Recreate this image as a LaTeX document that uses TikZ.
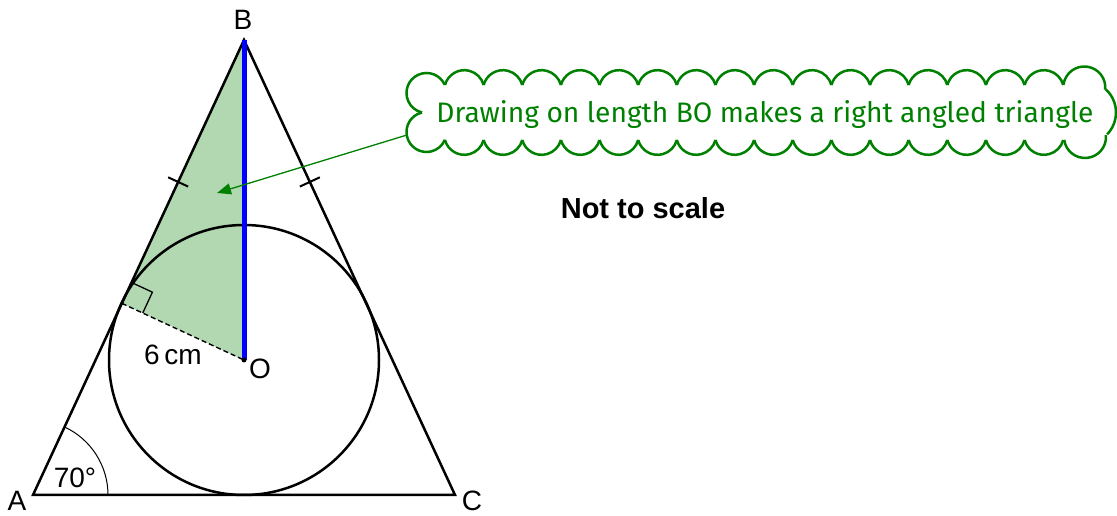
\documentclass[tikz,border=0pt]{standalone}
\usepackage{fontspec}
\setmainfont{Liberation Sans}
\newfontfamily\callfont{Fira Sans}
\usetikzlibrary{arrows.meta,calc,angles}
\definecolor{callgreen}{RGB}{0,128,0}
\definecolor{shadegreen}{RGB}{178,216,178}
\tikzset{
  lbl/.style={font=\fontsize{28}{32}\selectfont, inner sep=0pt},
  edge/.style={line width=2.5pt},
  tick/.style={line width=2pt},
  cloudline/.style={callgreen, line width=2.5pt},
}

\begin{document}
\begin{tikzpicture}[x=1pt,y=1pt]
            \useasboundingbox (0,0) rectangle (1117,516);
            % triangle and incircle
            \coordinate (A) at (33,21);
            \coordinate (B) at (244,476);
            \coordinate (C) at (455,21);
            \coordinate (O) at (244,156);
            \coordinate (T) at ($(A)!(O)!(B)$);
            \fill[shadegreen] (B)--(T)--(O)--cycle;
            \draw[edge] (A)--(B)--(C)--cycle;
            \draw[edge] (O) circle[radius=135pt];
            \draw[line width=1.4pt,dash pattern=on 5pt off 3pt] (T)--(O);
            % right angle
            \coordinate (Ta) at ($(T)!23pt!(B)$);
            \coordinate (Tb) at ($(T)!23pt!(O)$);
            \draw[line width=1.3pt] (Ta)--($(Ta)+(Tb)-(T)$)--(Tb);
            % equal sides
            \coordinate (MA) at ($(A)!0.688!(B)$);
            \coordinate (MC) at ($(C)!0.688!(B)$);
            \draw[tick] ($(MA)!11pt!90:(B)$)--($(MA)!11pt!-90:(B)$);
            \draw[tick] ($(MC)!11pt!90:(B)$)--($(MC)!11pt!-90:(B)$);
            \pic[draw,line width=1pt,angle radius=75pt] {angle=C--A--B};
            \draw[blue,line width=5pt] (B)--(O);
            \fill (O) circle[radius=2.5pt];
            \node[lbl] (lblA) at (17,15) {A};
            \node[lbl] (lblB) at (243,496) {B};
            \node[lbl] (lblC) at (472,15) {C};
            \node[lbl] (lblO) at (260,147) {O};
            \node[lbl] (lblR) at (173,161) {6\,cm};
            \node[lbl] (lblAng) at (75,38) {70°};
            \node[lbl,font=\fontsize{29}{32}\selectfont\bfseries] (note) at (643,308) {Not to scale};
            % cloud callout
            \foreach \i in {0,...,15} {
                \draw[cloudline] ({445+38.64*\i},431) arc[start angle=165,end angle=15,radius=20pt];
                \draw[cloudline] ({445+38.64*\i},376) arc[start angle=195,end angle=345,radius=20pt];
            }
            \draw[cloudline] (426.5,423) ++(24:20) arc[start angle=24,end angle=257,radius=20pt];
            \draw[cloudline] (426.5,384) ++(103:20) arc[start angle=103,end angle=337,radius=20pt];
            \draw[cloudline] (1084.3,428.5) ++(172:21) arc[start angle=172,end angle=-6,radius=21pt];
            \draw[cloudline] (1084.6,403.5) ++(48:31.4) arc[start angle=48,end angle=-44,radius=31.4pt];
            \draw[cloudline] (1085,379) ++(5:21) arc[start angle=5,end angle=-172,radius=21pt];
            \node[anchor=base,text=callgreen,font=\callfont\fontsize{28.2}{32}\selectfont,inner sep=0pt] (callout) at (765,393) {Drawing on length BO makes a right angled triangle};
            \coordinate (tail) at (407,381);
            \coordinate (head) at (217,323);
            \draw[callgreen,line width=1.3pt,-{Triangle[length=14pt,width=11pt]}] (tail)--(head);
        \end{tikzpicture}
\end{document}
